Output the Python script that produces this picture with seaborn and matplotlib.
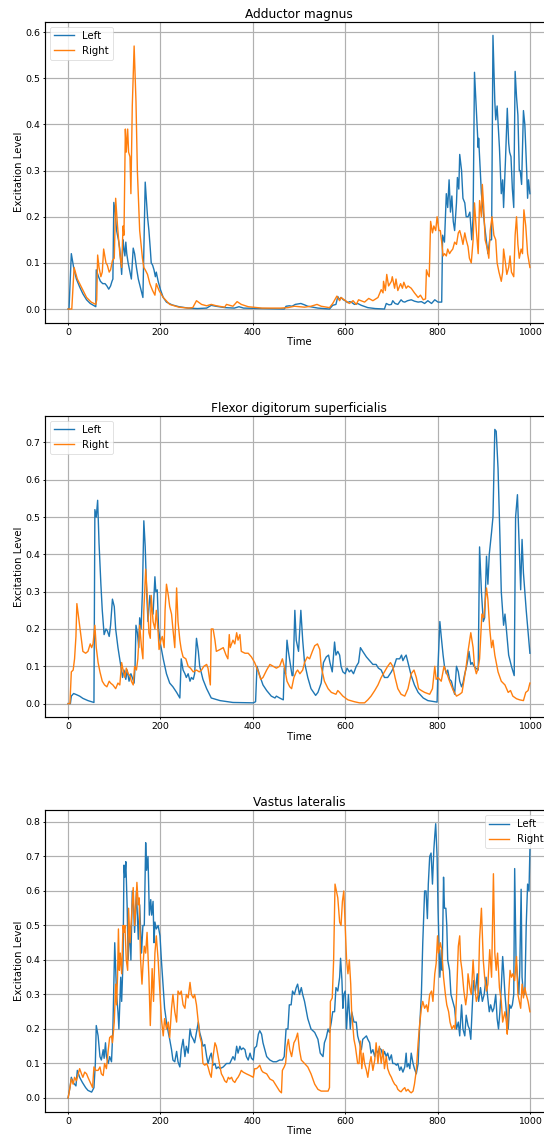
import matplotlib
matplotlib.use("Agg")
import matplotlib.pyplot as plt
import seaborn as sns
import pandas as pd

# ---------------- data (time, excitation) ----------------
TITLES = ["Adductor magnus", "Flexor digitorum superficialis", "Vastus lateralis"]
SERIES_LABELS = ["Left", "Right"]

AM_LEFT = [(0,0),(2,0.0),(7,0.12),(12,0.09),(18,0.065),(25,0.048),(32,0.033),(40,0.02),(48,0.012),(55,0.008),(60,0.005),(61,0.085),(66,0.07),(70,0.06),(75,0.055),(80,0.055),(84,0.05),(88,0.043),(92,0.05),(95,0.06),(97,0.065),(99,0.231),(102,0.21),(105,0.17),(109,0.15),(112,0.13),(116,0.075),(119,0.15),(121,0.13),(123,0.115),(125,0.145),(127,0.12),(130,0.1),(134,0.08),(137,0.065),(141,0.132),(144,0.12),(148,0.09),(152,0.065),(157,0.045),(162,0.025),(167,0.275),(170,0.23),(172,0.2),(175,0.17),(178,0.13),(180,0.1),(183,0.095),(186,0.085),(189,0.07),(191,0.08),(193,0.07),(195,0.06),(200,0.042),(206,0.025),(213,0.015),(225,0.009),(240,0.005),(260,0.002),(280,0.001),(300,0.002),(310,0.008),(320,0.006),(340,0.003),(360,0.002),(370,0.005),(380,0.002),(420,0.001),(468,0.0),(472,0.006),(479,0.007),(485,0.006),(492,0.01),(504,0.012),(512,0.009),(519,0.006),(530,0.004),(541,0.002),(555,0.001),(566,0.0),(573,0.008),(580,0.01),(584,0.027),(588,0.02),(591,0.025),(596,0.02),(600,0.018),(605,0.014),(610,0.016),(613,0.015),(620,0.01),(627,0.012),(635,0.008),(649,0.003),(665,0.001),(685,0.0),(689,0.012),(695,0.009),(700,0.01),(703,0.018),(708,0.012),(714,0.01),(721,0.02),(725,0.016),(729,0.015),(735,0.018),(743,0.02),(750,0.017),(758,0.015),(765,0.016),(772,0.012),(779,0.018),(787,0.012),(794,0.02),(801,0.015),(809,0.015),(811,0.16),(815,0.145),(819,0.25),(822,0.22),(825,0.28),(828,0.21),(831,0.245),(834,0.19),(837,0.17),(841,0.23),(843,0.285),(846,0.26),(848,0.335),(852,0.3),(855,0.24),(859,0.23),(862,0.2),(866,0.2),(870,0.21),(874,0.15),(877,0.2),(880,0.513),(883,0.45),(886,0.39),(888,0.35),(889,0.37),(895,0.25),(902,0.18),(909,0.12),(913,0.15),(917,0.15),(920,0.593),(924,0.45),(926,0.41),(929,0.44),(934,0.35),(938,0.25),(941,0.28),(943,0.22),(947,0.32),(951,0.435),(954,0.36),(956,0.34),(959,0.33),(962,0.26),(965,0.22),(968,0.515),(971,0.46),(974,0.42),(977,0.3),(979,0.3),(982,0.27),(986,0.43),(989,0.4),(993,0.3),(995,0.24),(997,0.28),(1000,0.25)]

AM_RIGHT = [(0,0),(8,0.0),(13,0.09),(20,0.065),(30,0.045),(40,0.025),(50,0.015),(60,0.01),(62,0.02),(64,0.117),(67,0.09),(71,0.07),(74,0.08),(77,0.13),(82,0.1),(85,0.095),(89,0.08),(92,0.085),(96,0.105),(100,0.11),(103,0.24),(107,0.18),(112,0.12),(116,0.09),(119,0.18),(121,0.16),(124,0.39),(126,0.34),(129,0.39),(131,0.34),(134,0.33),(136,0.25),(139,0.44),(143,0.57),(147,0.45),(150,0.3),(155,0.17),(161,0.11),(164,0.09),(167,0.085),(172,0.075),(177,0.055),(183,0.04),(188,0.03),(191,0.055),(197,0.04),(206,0.025),(220,0.01),(240,0.004),(260,0.002),(270,0.003),(278,0.018),(289,0.01),(300,0.007),(310,0.01),(321,0.007),(339,0.004),(343,0.01),(357,0.006),(366,0.016),(375,0.01),(390,0.005),(420,0.002),(460,0.002),(476,0.003),(490,0.006),(512,0.004),(526,0.006),(539,0.01),(548,0.006),(566,0.003),(573,0.012),(582,0.028),(588,0.018),(591,0.025),(598,0.02),(609,0.012),(617,0.018),(624,0.01),(629,0.02),(642,0.015),(651,0.023),(660,0.018),(671,0.025),(678,0.042),(682,0.035),(683,0.06),(687,0.04),(690,0.075),(694,0.05),(700,0.06),(702,0.07),(707,0.045),(710,0.065),(714,0.04),(720,0.055),(724,0.045),(727,0.058),(732,0.045),(736,0.05),(743,0.045),(750,0.035),(758,0.025),(763,0.03),(769,0.02),(774,0.022),(776,0.085),(779,0.075),(782,0.07),(785,0.19),(789,0.165),(792,0.18),(796,0.17),(799,0.2),(803,0.17),(806,0.17),(809,0.145),(812,0.115),(815,0.12),(819,0.115),(822,0.13),(826,0.12),(829,0.125),(833,0.13),(837,0.145),(841,0.14),(845,0.165),(848,0.17),(852,0.155),(855,0.14),(859,0.165),(862,0.15),(866,0.135),(869,0.11),(873,0.1),(877,0.15),(880,0.23),(884,0.17),(888,0.12),(891,0.235),(895,0.2),(897,0.27),(900,0.22),(903,0.15),(908,0.13),(911,0.11),(914,0.17),(918,0.2),(922,0.16),(926,0.15),(929,0.1),(933,0.08),(938,0.06),(941,0.08),(943,0.13),(947,0.1),(950,0.075),(954,0.09),(957,0.115),(960,0.08),(965,0.07),(968,0.16),(971,0.2),(974,0.14),(977,0.11),(981,0.13),(984,0.12),(987,0.215),(991,0.18),(995,0.12),(1000,0.09)]

FDS_LEFT = [(0,0),(5,0.0),(7,0.02),(12,0.027),(18,0.024),(25,0.02),(32,0.014),(43,0.008),(56,0.003),(58,0.52),(61,0.5),(64,0.545),(67,0.43),(71,0.32),(74,0.25),(78,0.185),(82,0.2),(85,0.195),(89,0.18),(92,0.21),(96,0.28),(100,0.26),(103,0.2),(108,0.15),(113,0.11),(118,0.07),(121,0.09),(125,0.065),(128,0.09),(132,0.06),(136,0.08),(139,0.07),(143,0.055),(145,0.1),(147,0.21),(150,0.19),(153,0.15),(155,0.23),(158,0.2),(161,0.3),(164,0.49),(167,0.42),(170,0.3),(173,0.22),(177,0.29),(180,0.26),(184,0.24),(188,0.34),(190,0.3),(193,0.305),(196,0.2),(200,0.16),(206,0.12),(213,0.08),(220,0.055),(227,0.045),(235,0.03),(242,0.015),(245,0.12),(249,0.09),(253,0.08),(256,0.07),(260,0.08),(264,0.06),(267,0.07),(271,0.065),(274,0.08),(278,0.175),(282,0.14),(285,0.1),(292,0.065),(300,0.04),(310,0.015),(329,0.008),(357,0.003),(401,0.002),(406,0.005),(409,0.1),(415,0.075),(422,0.05),(430,0.035),(440,0.02),(448,0.015),(451,0.02),(458,0.015),(466,0.01),(468,0.095),(471,0.08),(474,0.17),(477,0.14),(482,0.1),(485,0.075),(487,0.075),(491,0.25),(494,0.17),(499,0.14),(504,0.25),(508,0.17),(512,0.11),(519,0.07),(526,0.04),(536,0.022),(541,0.03),(548,0.055),(553,0.11),(559,0.125),(564,0.13),(567,0.11),(572,0.085),(577,0.165),(580,0.13),(584,0.14),(588,0.13),(591,0.1),(595,0.085),(600,0.08),(604,0.095),(609,0.085),(613,0.09),(618,0.08),(624,0.1),(629,0.11),(633,0.15),(638,0.14),(646,0.125),(653,0.115),(660,0.105),(667,0.105),(672,0.095),(678,0.09),(685,0.07),(692,0.07),(700,0.085),(706,0.1),(711,0.12),(718,0.12),(722,0.13),(725,0.115),(729,0.125),(732,0.13),(736,0.11),(743,0.075),(750,0.05),(758,0.03),(769,0.015),(779,0.008),(794,0.005),(799,0.004),(801,0.1),(805,0.22),(808,0.18),(812,0.13),(815,0.1),(819,0.08),(822,0.09),(826,0.065),(830,0.06),(834,0.04),(837,0.025),(841,0.1),(845,0.085),(848,0.06),(852,0.045),(855,0.055),(859,0.08),(862,0.095),(866,0.12),(868,0.14),(872,0.105),(875,0.11),(879,0.1),(883,0.095),(888,0.09),(891,0.42),(895,0.3),(899,0.22),(902,0.23),(906,0.395),(909,0.32),(912,0.4),(917,0.46),(920,0.5),(924,0.735),(927,0.73),(931,0.63),(935,0.45),(938,0.3),(943,0.21),(946,0.24),(949,0.2),(954,0.13),(960,0.1),(966,0.075),(969,0.5),(973,0.56),(976,0.45),(980,0.305),(983,0.44),(986,0.35),(992,0.25),(1000,0.135)]

FDS_RIGHT = [(0,0),(4,0.0),(7,0.085),(11,0.09),(14,0.12),(17,0.18),(19,0.268),(24,0.22),(29,0.17),(32,0.14),(38,0.135),(43,0.14),(48,0.16),(51,0.15),(54,0.16),(58,0.21),(61,0.15),(65,0.11),(69,0.085),(74,0.06),(79,0.05),(84,0.045),(89,0.06),(92,0.055),(97,0.05),(103,0.04),(108,0.055),(112,0.05),(116,0.11),(119,0.09),(123,0.07),(126,0.095),(130,0.08),(134,0.075),(137,0.06),(141,0.05),(144,0.1),(148,0.09),(151,0.12),(155,0.21),(159,0.15),(162,0.12),(164,0.25),(168,0.36),(171,0.3),(175,0.19),(178,0.175),(180,0.29),(184,0.22),(188,0.2),(191,0.25),(195,0.19),(197,0.145),(201,0.17),(204,0.18),(208,0.15),(210,0.25),(213,0.32),(217,0.29),(220,0.26),(224,0.24),(227,0.2),(231,0.15),(235,0.31),(238,0.22),(242,0.17),(245,0.145),(249,0.125),(255,0.12),(260,0.1),(265,0.095),(271,0.085),(278,0.09),(284,0.085),(289,0.09),(294,0.1),(300,0.105),(303,0.095),(308,0.05),(310,0.2),(314,0.2),(318,0.17),(321,0.14),(329,0.145),(336,0.15),(342,0.13),(346,0.12),(349,0.185),(351,0.15),(357,0.17),(361,0.16),(365,0.19),(368,0.17),(372,0.185),(375,0.14),(383,0.135),(390,0.135),(397,0.125),(404,0.11),(412,0.085),(417,0.065),(422,0.07),(430,0.09),(437,0.105),(444,0.1),(451,0.095),(458,0.1),(464,0.12),(469,0.095),(474,0.06),(480,0.045),(484,0.04),(489,0.07),(494,0.085),(497,0.09),(502,0.08),(508,0.09),(512,0.11),(518,0.125),(523,0.12),(529,0.14),(534,0.155),(540,0.16),(545,0.145),(548,0.1),(555,0.06),(563,0.04),(570,0.03),(580,0.025),(584,0.035),(588,0.03),(595,0.02),(606,0.01),(620,0.005),(631,0.002),(642,0.002),(649,0.01),(656,0.02),(664,0.035),(671,0.05),(678,0.07),(685,0.085),(692,0.1),(698,0.11),(703,0.1),(708,0.07),(714,0.04),(721,0.025),(729,0.02),(736,0.04),(743,0.08),(749,0.09),(754,0.07),(759,0.04),(765,0.035),(772,0.03),(783,0.025),(789,0.04),(794,0.1),(797,0.065),(801,0.07),(808,0.06),(814,0.1),(819,0.085),(826,0.06),(834,0.035),(841,0.02),(848,0.025),(853,0.03),(857,0.06),(862,0.1),(866,0.14),(872,0.19),(877,0.15),(880,0.1),(884,0.08),(888,0.095),(891,0.12),(896,0.24),(900,0.23),(906,0.31),(909,0.28),(913,0.2),(917,0.15),(920,0.17),(924,0.13),(931,0.085),(938,0.06),(946,0.05),(953,0.03),(958,0.035),(963,0.02),(971,0.013),(978,0.01),(986,0.008),(991,0.03),(996,0.035),(1000,0.055)]

VL_LEFT = [(0,0),(4,0.03),(7,0.06),(11,0.045),(17,0.035),(20,0.08),(25,0.06),(31,0.045),(38,0.03),(43,0.022),(51,0.017),(56,0.03),(59,0.1),(61,0.21),(65,0.18),(69,0.12),(72,0.11),(76,0.14),(78,0.115),(81,0.16),(83,0.12),(87,0.1),(90,0.12),(94,0.105),(97,0.2),(101,0.45),(105,0.3),(108,0.25),(110,0.2),(114,0.35),(116,0.28),(119,0.4),(121,0.675),(123,0.64),(125,0.685),(128,0.55),(130,0.4),(134,0.5),(136,0.4),(139,0.6),(142,0.55),(144,0.48),(148,0.6),(152,0.46),(155,0.56),(159,0.42),(162,0.5),(165,0.5),(168,0.74),(170,0.66),(173,0.7),(176,0.53),(179,0.575),(181,0.53),(184,0.57),(186,0.45),(188,0.51),(191,0.49),(195,0.5),(199,0.47),(202,0.4),(206,0.32),(209,0.26),(213,0.22),(217,0.19),(220,0.17),(224,0.14),(227,0.11),(231,0.105),(235,0.135),(238,0.105),(242,0.09),(245,0.14),(249,0.17),(253,0.12),(256,0.15),(260,0.13),(264,0.2),(267,0.18),(271,0.17),(274,0.16),(278,0.19),(282,0.22),(285,0.19),(289,0.17),(292,0.15),(296,0.155),(300,0.12),(303,0.1),(307,0.12),(310,0.13),(314,0.095),(318,0.1),(321,0.085),(325,0.09),(329,0.085),(336,0.09),(343,0.1),(350,0.1),(357,0.12),(361,0.11),(365,0.15),(368,0.13),(372,0.15),(375,0.14),(379,0.145),(383,0.14),(386,0.12),(390,0.11),(394,0.13),(397,0.115),(401,0.11),(404,0.145),(408,0.15),(412,0.185),(415,0.195),(419,0.185),(422,0.16),(430,0.12),(437,0.11),(444,0.105),(451,0.105),(458,0.11),(464,0.11),(468,0.12),(472,0.2),(476,0.2),(479,0.27),(483,0.27),(486,0.31),(490,0.3),(494,0.32),(497,0.33),(501,0.3),(505,0.32),(508,0.3),(512,0.28),(519,0.23),(526,0.2),(534,0.19),(541,0.17),(546,0.13),(552,0.12),(555,0.16),(559,0.175),(563,0.2),(566,0.19),(570,0.22),(573,0.25),(577,0.25),(580,0.32),(584,0.31),(588,0.35),(590,0.405),(593,0.34),(595,0.26),(597,0.3),(600,0.31),(603,0.2),(607,0.3),(611,0.2),(614,0.25),(619,0.22),(624,0.22),(627,0.18),(631,0.16),(635,0.14),(638,0.17),(642,0.175),(646,0.18),(649,0.17),(653,0.16),(656,0.13),(660,0.14),(664,0.12),(667,0.14),(671,0.13),(674,0.145),(678,0.14),(682,0.12),(685,0.135),(689,0.12),(692,0.13),(696,0.11),(700,0.125),(703,0.1),(707,0.1),(711,0.095),(714,0.1),(718,0.08),(721,0.09),(725,0.075),(729,0.09),(732,0.13),(734,0.09),(737,0.1),(740,0.085),(743,0.13),(747,0.1),(750,0.085),(754,0.07),(758,0.1),(761,0.2),(765,0.3),(768,0.45),(772,0.6),(775,0.6),(778,0.52),(780,0.62),(783,0.7),(786,0.71),(789,0.62),(792,0.72),(794,0.76),(796,0.795),(799,0.7),(801,0.55),(805,0.35),(808,0.43),(810,0.37),(813,0.64),(815,0.55),(818,0.55),(820,0.5),(822,0.4),(826,0.37),(829,0.3),(833,0.28),(837,0.26),(841,0.2),(845,0.22),(848,0.18),(852,0.27),(855,0.2),(859,0.18),(862,0.24),(866,0.21),(869,0.2),(872,0.17),(875,0.26),(878,0.34),(882,0.31),(886,0.36),(889,0.28),(893,0.32),(897,0.28),(901,0.3),(905,0.35),(908,0.3),(912,0.25),(915,0.27),(919,0.25),(922,0.26),(926,0.3),(929,0.23),(932,0.2),(935,0.25),(938,0.32),(941,0.41),(943,0.37),(946,0.3),(949,0.25),(953,0.2),(956,0.27),(959,0.26),(962,0.27),(965,0.3),(967,0.665),(970,0.4),(973,0.35),(976,0.3),(978,0.37),(981,0.605),(983,0.35),(986,0.3),(989,0.3),(992,0.5),(995,0.62),(998,0.6),(1000,0.72)]

VL_RIGHT = [(0,0),(4,0.03),(7,0.055),(11,0.04),(14,0.06),(18,0.05),(22,0.07),(25,0.085),(29,0.07),(32,0.06),(36,0.075),(40,0.07),(43,0.06),(48,0.045),(53,0.03),(56,0.09),(60,0.08),(65,0.08),(69,0.09),(72,0.07),(76,0.065),(79,0.1),(83,0.085),(87,0.14),(90,0.175),(94,0.18),(96,0.16),(100,0.22),(103,0.33),(105,0.27),(107,0.35),(109,0.49),(111,0.37),(113,0.42),(116,0.36),(119,0.5),(121,0.48),(123,0.5),(126,0.4),(129,0.37),(131,0.55),(134,0.45),(137,0.52),(141,0.61),(144,0.5),(147,0.56),(149,0.625),(152,0.56),(154,0.58),(157,0.4),(160,0.33),(162,0.38),(165,0.44),(168,0.42),(171,0.48),(175,0.35),(178,0.21),(182,0.375),(185,0.28),(188,0.42),(191,0.47),(195,0.4),(199,0.3),(202,0.23),(206,0.18),(209,0.23),(213,0.2),(217,0.22),(220,0.175),(224,0.26),(227,0.3),(231,0.25),(235,0.22),(238,0.31),(242,0.3),(245,0.31),(249,0.27),(253,0.26),(256,0.3),(260,0.29),(264,0.335),(267,0.3),(271,0.29),(274,0.3),(278,0.27),(282,0.22),(285,0.18),(289,0.16),(292,0.1),(296,0.095),(300,0.1),(303,0.09),(307,0.07),(310,0.06),(314,0.12),(318,0.16),(321,0.15),(325,0.12),(329,0.09),(332,0.07),(336,0.06),(339,0.05),(343,0.045),(347,0.06),(350,0.055),(354,0.06),(357,0.05),(361,0.045),(365,0.055),(368,0.06),(372,0.07),(375,0.08),(379,0.075),(386,0.07),(394,0.065),(401,0.06),(404,0.085),(408,0.085),(412,0.09),(415,0.095),(419,0.08),(422,0.075),(430,0.07),(437,0.055),(444,0.05),(451,0.035),(458,0.02),(462,0.015),(464,0.08),(468,0.09),(471,0.1),(474,0.15),(477,0.17),(480,0.14),(484,0.12),(489,0.16),(493,0.17),(497,0.188),(501,0.14),(505,0.11),(512,0.1),(519,0.09),(526,0.07),(534,0.04),(541,0.025),(548,0.02),(555,0.02),(563,0.02),(566,0.03),(568,0.28),(572,0.29),(575,0.4),(578,0.62),(581,0.6),(584,0.58),(588,0.51),(591,0.5),(594,0.57),(597,0.6),(600,0.5),(603,0.4),(606,0.36),(609,0.4),(612,0.33),(614,0.25),(619,0.17),(622,0.15),(625,0.12),(627,0.1),(630,0.1),(633,0.165),(636,0.085),(639,0.13),(642,0.1),(646,0.08),(649,0.06),(653,0.1),(656,0.12),(660,0.08),(664,0.11),(667,0.16),(671,0.1),(674,0.15),(678,0.1),(682,0.14),(685,0.085),(689,0.12),(692,0.085),(696,0.07),(700,0.06),(703,0.05),(707,0.04),(711,0.035),(714,0.025),(718,0.02),(721,0.018),(725,0.025),(729,0.03),(732,0.02),(736,0.025),(740,0.018),(743,0.015),(747,0.02),(750,0.04),(754,0.08),(758,0.16),(761,0.21),(765,0.26),(768,0.28),(772,0.26),(776,0.27),(779,0.25),(783,0.3),(787,0.31),(790,0.28),(794,0.36),(797,0.39),(800,0.47),(802,0.42),(806,0.45),(809,0.43),(813,0.35),(817,0.3),(820,0.27),(824,0.25),(827,0.22),(831,0.2),(835,0.21),(838,0.2),(841,0.29),(845,0.44),(848,0.47),(850,0.4),(853,0.37),(857,0.31),(861,0.27),(864,0.3),(866,0.36),(870,0.32),(873,0.3),(877,0.4),(880,0.33),(884,0.28),(888,0.3),(891,0.46),(895,0.55),(899,0.4),(902,0.35),(906,0.31),(909,0.33),(913,0.43),(917,0.35),(919,0.5),(921,0.65),(924,0.42),(927,0.37),(930,0.42),(934,0.32),(938,0.28),(941,0.22),(946,0.25),(949,0.22),(951,0.185),(954,0.3),(957,0.37),(960,0.35),(963,0.36),(967,0.34),(971,0.41),(974,0.3),(977,0.28),(980,0.26),(983,0.33),(986,0.29),(989,0.32),(992,0.3),(996,0.28),(1000,0.25)]

PANELS = [(AM_LEFT, AM_RIGHT), (FDS_LEFT, FDS_RIGHT), (VL_LEFT, VL_RIGHT)]
LEGEND_LOCS = ["upper left", "upper left", "upper right"]
COLORS = ["#1f77b4", "#ff7f0e"]

# ---------------- figure ----------------
W, H = 544, 1137
DPI = 50
plt.rcParams["font.family"] = ["DejaVu Sans"]
plt.rcParams["font.size"] = 14.5
plt.rcParams["xtick.labelsize"] = 13.5
plt.rcParams["ytick.labelsize"] = 13.5
plt.rcParams["axes.titlesize"] = 17.5
plt.rcParams["axes.linewidth"] = 1.7
plt.rcParams["xtick.major.width"] = 1.3
plt.rcParams["ytick.major.width"] = 1.3
fig = plt.figure(figsize=(W / DPI, H / DPI), dpi=DPI)

# axes boxes in pixels: (left, top, right, bottom)
BOXES = [(45, 21.7, 553, 322.7), (45, 415.7, 553, 717.3), (45, 810, 553, 1111.7)]

for (left_s, right_s), title, loc, (l, t, r, b) in zip(PANELS, TITLES, LEGEND_LOCS, BOXES):
    ax = fig.add_axes([l / W, 1 - b / H, (r - l) / W, (b - t) / H])
    for series, lab, col in zip((left_s, right_s), SERIES_LABELS, COLORS):
        df = pd.DataFrame(series, columns=["Time", "Excitation Level"])
        sns.lineplot(data=df, x="Time", y="Excitation Level", ax=ax, color=col,
                     label=lab, estimator=None, sort=False, linewidth=2.0)
    ax.set_title(title)
    ax.set_xlabel("Time", labelpad=1)
    ax.set_ylabel("Excitation Level", labelpad=1.5)
    ax.grid(True, color="#b0b0b0", linewidth=1.7)
    ax.set_axisbelow(True)
    ax.legend(loc=loc)

fig.savefig("out.png", dpi=DPI)
